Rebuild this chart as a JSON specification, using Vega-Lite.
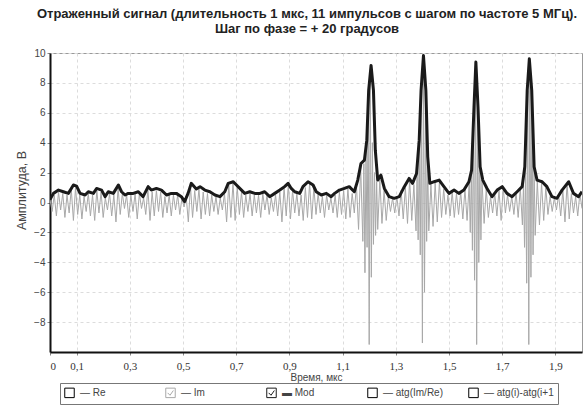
{
  "$schema": "https://vega.github.io/schema/vega-lite/v6.json",
  "width": 532,
  "height": 299,
  "autosize": "none",
  "padding": {"left": 50, "top": 53, "right": 2, "bottom": 53},
  "background": "white",
  "title": {
    "text": ["Отраженный сигнал (длительность 1 мкс, 11 импульсов с шагом по частоте 5 МГц).", "Шаг по фазе = + 20 градусов"],
    "font": "Liberation Sans",
    "fontSize": 13,
    "fontWeight": "bold",
    "color": "#222",
    "anchor": "middle",
    "dx": -9,
    "offset": 12,
    "lineHeight": 15
  },
  "config": {
    "view": {"stroke": "#999", "strokeWidth": 1},
    "axis": {"labelFont": "Liberation Sans", "titleFont": "Liberation Sans", "gridColor": "#dcdcdc", "gridDash": [3, 3], "gridWidth": 1},
    "legend": {"labelFont": "Liberation Sans"}
  },
  "datasets": {
    "mod": [
      {"t":0,"v":0.2},{"t":0.013,"v":0.61},{"t":0.032,"v":0.83},{"t":0.05,"v":0.72},{"t":0.069,"v":0.61},{"t":0.088,"v":1.17},{"t":0.1,"v":1.1},{"t":0.113,"v":0.61},{"t":0.132,"v":0.5},{"t":0.144,"v":0.72},{"t":0.163,"v":0.61},{"t":0.175,"v":0.94},{"t":0.194,"v":0.83},{"t":0.207,"v":0.39},{"t":0.219,"v":0.72},{"t":0.238,"v":0.61},{"t":0.257,"v":1.17},{"t":0.269,"v":0.72},{"t":0.282,"v":0.5},{"t":0.294,"v":0.61},{"t":0.313,"v":0.61},{"t":0.332,"v":0.72},{"t":0.35,"v":0.39},{"t":0.369,"v":1.06},{"t":0.381,"v":0.83},{"t":0.4,"v":0.94},{"t":0.419,"v":0.83},{"t":0.438,"v":0.5},{"t":0.456,"v":0.61},{"t":0.475,"v":0.61},{"t":0.494,"v":0.39},{"t":0.506,"v":0.06},{"t":0.519,"v":0.61},{"t":0.531,"v":1.28},{"t":0.55,"v":0.9},{"t":0.564,"v":1.06},{"t":0.582,"v":0.83},{"t":0.601,"v":0.72},{"t":0.62,"v":0.5},{"t":0.639,"v":0.39},{"t":0.657,"v":0.72},{"t":0.67,"v":1.28},{"t":0.689,"v":1.39},{"t":0.701,"v":1.17},{"t":0.72,"v":0.83},{"t":0.732,"v":0.61},{"t":0.751,"v":0.72},{"t":0.77,"v":0.61},{"t":0.789,"v":0.61},{"t":0.807,"v":0.72},{"t":0.826,"v":0.39},{"t":0.845,"v":0.61},{"t":0.864,"v":0.83},{"t":0.882,"v":1.06},{"t":0.895,"v":1.28},{"t":0.907,"v":0.94},{"t":0.92,"v":0.72},{"t":0.939,"v":0.61},{"t":0.951,"v":1.06},{"t":0.97,"v":1.39},{"t":0.989,"v":1.17},{"t":1.001,"v":0.72},{"t":1.02,"v":0.5},{"t":1.039,"v":0.61},{"t":1.057,"v":0.39},{"t":1.07,"v":0.61},{"t":1.088,"v":0.83},{"t":1.107,"v":0.94},{"t":1.125,"v":1.06},{"t":1.144,"v":0.72},{"t":1.157,"v":1.5},{"t":1.169,"v":2.61},{"t":1.182,"v":2.83},{"t":1.191,"v":4.17},{"t":1.198,"v":7.5},{"t":1.207,"v":9.17},{"t":1.216,"v":7.5},{"t":1.223,"v":3.5},{"t":1.232,"v":1.5},{"t":1.244,"v":1.83},{"t":1.257,"v":0.94},{"t":1.275,"v":0.39},{"t":1.294,"v":0.28},{"t":1.313,"v":0.39},{"t":1.332,"v":1.06},{"t":1.35,"v":1.61},{"t":1.363,"v":1.28},{"t":1.378,"v":1.94},{"t":1.388,"v":4.17},{"t":1.395,"v":7.5},{"t":1.404,"v":9.83},{"t":1.413,"v":7.5},{"t":1.42,"v":3.06},{"t":1.428,"v":1.28},{"t":1.444,"v":1.39},{"t":1.463,"v":1.5},{"t":1.481,"v":1.06},{"t":1.5,"v":0.61},{"t":1.519,"v":0.83},{"t":1.537,"v":0.61},{"t":1.556,"v":0.83},{"t":1.575,"v":1.39},{"t":1.585,"v":2.17},{"t":1.594,"v":6.39},{"t":1.601,"v":9.39},{"t":1.609,"v":6.39},{"t":1.617,"v":2.39},{"t":1.627,"v":1.5},{"t":1.643,"v":0.94},{"t":1.662,"v":0.39},{"t":1.681,"v":0.83},{"t":1.7,"v":1.06},{"t":1.718,"v":0.61},{"t":1.737,"v":0.39},{"t":1.756,"v":0.72},{"t":1.775,"v":1.06},{"t":1.785,"v":2.39},{"t":1.794,"v":7.5},{"t":1.802,"v":9.61},{"t":1.811,"v":7.5},{"t":1.82,"v":2.39},{"t":1.831,"v":1.5},{"t":1.85,"v":1.39},{"t":1.868,"v":1.06},{"t":1.887,"v":0.39},{"t":1.906,"v":0.28},{"t":1.925,"v":0.83},{"t":1.95,"v":1.39},{"t":1.968,"v":0.61},{"t":1.987,"v":0.39},{"t":2.0,"v":0.72}
    ],
    "im": [
      {"t":0,"v":0.2},{"t":0.008,"v":-0.6},{"t":0.016,"v":0.5},{"t":0.024,"v":-0.9},{"t":0.032,"v":0.7},{"t":0.04,"v":-0.5},{"t":0.048,"v":0.6},{"t":0.056,"v":-1.0},{"t":0.064,"v":0.5},{"t":0.072,"v":-0.7},{"t":0.08,"v":0.9},{"t":0.088,"v":-1.2},{"t":0.096,"v":1.0},{"t":0.104,"v":-0.8},{"t":0.112,"v":0.5},{"t":0.12,"v":-1.1},{"t":0.128,"v":0.4},{"t":0.136,"v":-0.6},{"t":0.144,"v":0.6},{"t":0.152,"v":-0.9},{"t":0.16,"v":0.5},{"t":0.168,"v":-1.2},{"t":0.176,"v":0.8},{"t":0.184,"v":-0.7},{"t":0.192,"v":0.7},{"t":0.2,"v":-1.0},{"t":0.208,"v":0.3},{"t":0.216,"v":-0.5},{"t":0.224,"v":0.6},{"t":0.232,"v":-0.9},{"t":0.24,"v":0.5},{"t":0.248,"v":-1.3},{"t":0.256,"v":1.0},{"t":0.264,"v":-0.8},{"t":0.272,"v":0.6},{"t":0.28,"v":-0.4},{"t":0.288,"v":0.5},{"t":0.296,"v":-1.0},{"t":0.304,"v":0.5},{"t":0.312,"v":-0.6},{"t":0.32,"v":0.6},{"t":0.328,"v":-1.1},{"t":0.336,"v":0.6},{"t":0.344,"v":-0.4},{"t":0.352,"v":0.3},{"t":0.36,"v":-0.8},{"t":0.368,"v":0.9},{"t":0.376,"v":-1.2},{"t":0.384,"v":0.7},{"t":0.392,"v":-0.9},{"t":0.4,"v":0.8},{"t":0.408,"v":-0.6},{"t":0.416,"v":0.7},{"t":0.424,"v":-1.0},{"t":0.432,"v":0.4},{"t":0.44,"v":-0.7},{"t":0.448,"v":0.5},{"t":0.456,"v":-0.9},{"t":0.464,"v":0.5},{"t":0.472,"v":-0.5},{"t":0.48,"v":0.5},{"t":0.488,"v":-0.8},{"t":0.496,"v":0.3},{"t":0.504,"v":-0.3},{"t":0.512,"v":0.4},{"t":0.52,"v":-1.3},{"t":0.528,"v":1.1},{"t":0.536,"v":-1.0},{"t":0.544,"v":0.8},{"t":0.552,"v":-0.6},{"t":0.56,"v":0.9},{"t":0.568,"v":-1.1},{"t":0.576,"v":0.7},{"t":0.584,"v":-0.8},{"t":0.592,"v":0.6},{"t":0.6,"v":-0.9},{"t":0.608,"v":0.5},{"t":0.616,"v":-0.6},{"t":0.624,"v":0.4},{"t":0.632,"v":-0.8},{"t":0.64,"v":0.3},{"t":0.648,"v":-0.5},{"t":0.656,"v":0.6},{"t":0.664,"v":-1.3},{"t":0.672,"v":1.2},{"t":0.68,"v":-1.0},{"t":0.688,"v":1.3},{"t":0.696,"v":-1.2},{"t":0.704,"v":1.0},{"t":0.712,"v":-0.8},{"t":0.72,"v":0.7},{"t":0.728,"v":-1.0},{"t":0.736,"v":0.5},{"t":0.744,"v":-0.6},{"t":0.752,"v":0.6},{"t":0.76,"v":-0.9},{"t":0.768,"v":0.5},{"t":0.776,"v":-0.7},{"t":0.784,"v":0.5},{"t":0.792,"v":-1.0},{"t":0.8,"v":0.6},{"t":0.808,"v":-0.5},{"t":0.816,"v":0.5},{"t":0.824,"v":-0.8},{"t":0.832,"v":0.3},{"t":0.84,"v":-0.6},{"t":0.848,"v":0.5},{"t":0.856,"v":-0.9},{"t":0.864,"v":0.7},{"t":0.872,"v":-1.3},{"t":0.88,"v":1.0},{"t":0.888,"v":-0.9},{"t":0.896,"v":1.2},{"t":0.904,"v":-1.1},{"t":0.912,"v":0.8},{"t":0.92,"v":-0.7},{"t":0.928,"v":0.6},{"t":0.936,"v":-0.9},{"t":0.944,"v":0.5},{"t":0.952,"v":-1.2},{"t":0.96,"v":1.0},{"t":0.968,"v":-1.0},{"t":0.976,"v":1.3},{"t":0.984,"v":-1.1},{"t":0.992,"v":1.0},{"t":1.0,"v":-0.8},{"t":1.008,"v":0.6},{"t":1.016,"v":-0.7},{"t":1.024,"v":0.4},{"t":1.032,"v":-1.0},{"t":1.04,"v":0.5},{"t":1.048,"v":-0.5},{"t":1.056,"v":0.3},{"t":1.064,"v":-0.7},{"t":1.072,"v":0.5},{"t":1.08,"v":-1.0},{"t":1.088,"v":0.7},{"t":1.096,"v":-0.8},{"t":1.104,"v":0.8},{"t":1.112,"v":-1.1},{"t":1.12,"v":0.9},{"t":1.128,"v":-1.0},{"t":1.136,"v":0.6},{"t":1.144,"v":-0.7},{"t":1.152,"v":1.2},{"t":1.16,"v":-1.8},{"t":1.168,"v":2.4},{"t":1.176,"v":-2.6},{"t":1.18,"v":2.6},{"t":1.184,"v":-4.7},{"t":1.188,"v":3.5},{"t":1.192,"v":-3.0},{"t":1.196,"v":6.5},{"t":1.2,"v":-9.5},{"t":1.204,"v":8.8},{"t":1.208,"v":-5.0},{"t":1.212,"v":4.0},{"t":1.216,"v":-2.8},{"t":1.22,"v":2.0},{"t":1.224,"v":-2.2},{"t":1.228,"v":1.4},{"t":1.232,"v":-1.8},{"t":1.24,"v":1.5},{"t":1.248,"v":-1.4},{"t":1.256,"v":0.8},{"t":1.264,"v":-1.2},{"t":1.272,"v":0.4},{"t":1.28,"v":-0.6},{"t":1.288,"v":0.3},{"t":1.296,"v":-0.7},{"t":1.304,"v":0.4},{"t":1.312,"v":-0.9},{"t":1.32,"v":0.8},{"t":1.328,"v":-1.1},{"t":1.336,"v":1.0},{"t":1.344,"v":-1.4},{"t":1.352,"v":1.5},{"t":1.36,"v":-1.2},{"t":1.368,"v":1.2},{"t":1.376,"v":-1.9},{"t":1.38,"v":1.9},{"t":1.384,"v":-2.5},{"t":1.388,"v":3.5},{"t":1.392,"v":-3.5},{"t":1.396,"v":7.0},{"t":1.4,"v":-9.4},{"t":1.404,"v":9.6},{"t":1.408,"v":-6.0},{"t":1.412,"v":6.0},{"t":1.416,"v":-2.6},{"t":1.42,"v":2.5},{"t":1.424,"v":-1.9},{"t":1.432,"v":1.2},{"t":1.44,"v":-1.6},{"t":1.448,"v":1.3},{"t":1.456,"v":-1.3},{"t":1.464,"v":1.4},{"t":1.472,"v":-1.0},{"t":1.48,"v":0.9},{"t":1.488,"v":-0.8},{"t":1.496,"v":0.5},{"t":1.504,"v":-0.9},{"t":1.512,"v":0.7},{"t":1.52,"v":-1.0},{"t":1.528,"v":0.6},{"t":1.536,"v":-0.8},{"t":1.544,"v":0.7},{"t":1.552,"v":-1.1},{"t":1.56,"v":0.9},{"t":1.568,"v":-1.2},{"t":1.576,"v":1.3},{"t":1.58,"v":-2.0},{"t":1.584,"v":2.1},{"t":1.588,"v":-3.2},{"t":1.592,"v":5.5},{"t":1.596,"v":-5.2},{"t":1.6,"v":9.0},{"t":1.604,"v":-9.5},{"t":1.608,"v":6.0},{"t":1.612,"v":-4.0},{"t":1.616,"v":2.2},{"t":1.62,"v":-2.5},{"t":1.624,"v":1.5},{"t":1.632,"v":-1.4},{"t":1.64,"v":0.9},{"t":1.648,"v":-1.0},{"t":1.656,"v":0.4},{"t":1.664,"v":-0.7},{"t":1.672,"v":0.6},{"t":1.68,"v":-0.9},{"t":1.688,"v":0.8},{"t":1.696,"v":-1.2},{"t":1.704,"v":1.0},{"t":1.712,"v":-0.7},{"t":1.72,"v":0.5},{"t":1.728,"v":-0.6},{"t":1.736,"v":0.4},{"t":1.744,"v":-0.8},{"t":1.752,"v":0.7},{"t":1.76,"v":-1.0},{"t":1.768,"v":1.0},{"t":1.776,"v":-1.5},{"t":1.78,"v":1.2},{"t":1.784,"v":-3.0},{"t":1.788,"v":2.3},{"t":1.792,"v":-5.4},{"t":1.796,"v":7.5},{"t":1.8,"v":-9.5},{"t":1.804,"v":9.4},{"t":1.808,"v":-5.0},{"t":1.812,"v":7.0},{"t":1.816,"v":-3.5},{"t":1.82,"v":2.3},{"t":1.824,"v":-2.2},{"t":1.832,"v":1.4},{"t":1.84,"v":-1.5},{"t":1.848,"v":1.3},{"t":1.856,"v":-1.2},{"t":1.864,"v":1.0},{"t":1.872,"v":-0.8},{"t":1.88,"v":0.4},{"t":1.888,"v":-0.6},{"t":1.896,"v":0.3},{"t":1.904,"v":-0.5},{"t":1.912,"v":0.5},{"t":1.92,"v":-0.9},{"t":1.928,"v":0.8},{"t":1.936,"v":-1.3},{"t":1.944,"v":1.3},{"t":1.952,"v":-1.1},{"t":1.96,"v":0.6},{"t":1.968,"v":-0.7},{"t":1.976,"v":0.4},{"t":1.984,"v":-0.9},{"t":1.992,"v":0.6},{"t":2.0,"v":-0.4}
    ]
  },
  "encoding": {
    "x": {
      "field": "t", "type": "quantitative",
      "scale": {"domain": [0, 2], "nice": false, "zero": false},
      "axis": {
        "values": [0, 0.1, 0.3, 0.5, 0.7, 0.9, 1.1, 1.3, 1.5, 1.7, 1.9],
        "labelExpr": "replace(format(datum.value, '.1~f'), '.', ',')",
        "labelFont": "Liberation Serif",
        "labelFontSize": 11,
        "labelColor": "#333",
        "labelPadding": 5,
        "tickSize": 3,
        "tickColor": "#888",
        "domainColor": "#111",
        "domainWidth": 2,
        "title": "Время, мкс",
        "titleFontSize": 10,
        "titleFontWeight": "normal",
        "titleColor": "#444",
        "titlePadding": 1
      }
    },
    "y": {
      "field": "v", "type": "quantitative",
      "scale": {"domain": [-10, 10], "nice": false},
      "axis": {
        "values": [-8, -6, -4, -2, 0, 2, 4, 6, 8, 10],
        "labelFontSize": 10,
        "labelColor": "#444",
        "tickSize": 3,
        "tickColor": "#888",
        "domainColor": "#111",
        "domainWidth": 2,
        "title": "Амплитуда, В",
        "titleFontSize": 12.5,
        "titleFontWeight": "normal",
        "titleColor": "#444",
        "titlePadding": 5,
        "titleAlign": "center",
        "titleY": 137
      }
    }
  },
  "layer": [
    {
      "data": {"name": "im"},
      "mark": {"type": "line", "strokeWidth": 1, "clip": true},
      "encoding": {
        "color": {
          "datum": "Im",
          "scale": {"domain": ["Re", "Im", "Mod", "atg(Im/Re)", "atg(i)-atg(i+1)"], "range": ["#000000", "#a8a8a8", "#1a1a1a", "#000000", "#000000"]},
          "legend": {
            "orient": "none",
            "legendX": 10,
            "legendY": 330,
            "direction": "horizontal",
            "columns": 5,
            "title": null,
            "gridAlign": "all",
            "columnPadding": 13,
            "padding": 4,
            "strokeColor": "#777",
            "labelFontSize": 10,
            "labelColor": "#444",
            "labelOffset": 5,
            "symbolSize": 90,
            "labelExpr": "datum.value === 'Mod' ? '▬ Mod' : datum.value === 'atg(i)-atg(i+1)' ? '— atg(i)-atg(i+1' : '— ' + datum.value",
            "encode": {
              "symbols": {
                "update": {
                  "shape": {"signal": "datum.value === 'Im' || datum.value === 'Mod' ? 'M-1,-1H1V1H-1ZM-0.6,0L-0.1,0.5L0.6,-0.5' : 'M-1,-1H1V1H-1Z'"},
                  "stroke": {"value": "#555"},
                  "strokeWidth": {"value": 1},
                  "fill": {"value": "white"},
                  "fillOpacity": {"value": 0},
                  "opacity": {"value": 1}
                }
              }
            }
          }
        }
      }
    },
    {
      "data": {"name": "mod"},
      "mark": {"type": "line", "strokeWidth": 3, "clip": true, "strokeJoin": "round"},
      "encoding": {
        "color": {"datum": "Mod"}
      }
    }
  ]
}
